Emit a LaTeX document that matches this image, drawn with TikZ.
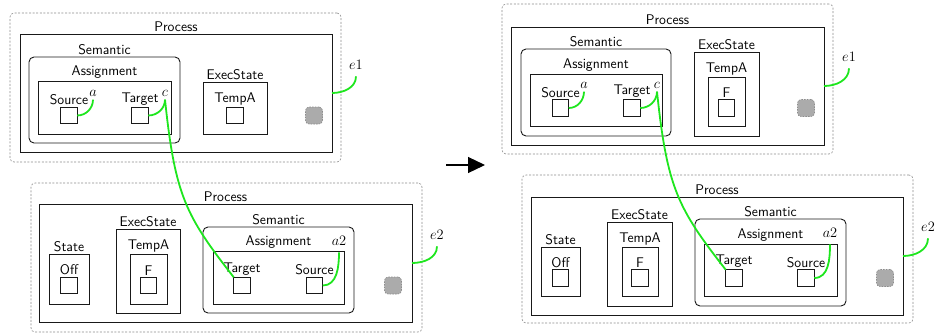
\documentclass[tikz,border=0pt]{standalone}
\usetikzlibrary{arrows.meta}
\definecolor{linkgreen}{RGB}{30,230,30}
\begin{document}
\begin{tikzpicture}[x=1pt,y=-1pt,
  every node/.style={font=\fontsize{14}{17}\selectfont},
  sz/.style 2 args={minimum width=#1pt, minimum height=#2pt},
  box/.style={draw=black!90, line width=0.9pt, inner sep=0pt, outer sep=0pt},
  rbox/.style={box, rounded corners=5pt},
  sq/.style={box, minimum size=16.5pt},
  grp/.style={draw=black!45, line width=0.6pt, dash pattern=on 2pt off 1.6pt, rounded corners=4pt, inner sep=0pt, outer sep=0pt},
  port/.style={fill=black!33, draw=black!45, line width=0.6pt, dash pattern=on 1.5pt off 1.2pt, rounded corners=3.5pt, minimum size=17pt, inner sep=0pt},
  lab/.style={anchor=south, inner sep=2pt, font=\fontsize{14}{17}\selectfont\sffamily},
  mlab/.style={inner sep=3.3pt},
  elab/.style={inner xsep=3pt, inner ysep=6.5pt},
  link/.style={draw=linkgreen, line width=1.8pt}
]
\useasboundingbox (0,0) rectangle (935,333);

% ---------- top left ----------
\node[grp, sz={331}{149}] (TLg) at (175.5,87.5) {};
\node[box, sz={312}{118}] (TLp) at (176,93) {};
\node[lab] (TLpL) at (TLp.north) {Process};
\node[rbox, sz={151}{86}] (TLs) at (104.5,100) {};
\node[lab] (TLsL) at (TLs.north) {Semantic};
\node[box, sz={133}{53}] (TLa) at (104.5,107.5) {};
\node[lab] (TLaL) at (TLa.north) {Assignment};
\node[sq] (TLsrc) at (69,115.5) {};
\node[lab] (TLsrcL) at (TLsrc.north) {Source};
\node[sq] (TLtgt) at (140,115.5) {};
\node[lab] (TLtgtL) at (TLtgt.north) {Target};
\node[box, sz={64}{52}] (TLe) at (235,108) {};
\node[lab] (TLeL) at (TLe.north) {ExecState};
\node[sq] (TLt) at (235,115.5) {};
\node[lab] (TLtL) at (TLt.north) {TempA};
\node[port] (TLport) at (314,115.5) {};
\node[mlab] (TLma) at (93,93) {$a$};
\node[mlab] (TLmc) at (165,93) {$c$};
\node[elab] (TLme) at (356,65) {$e1$};

% ---------- bottom left ----------
\node[grp, sz={391}{149}] (BLg) at (226.5,257.5) {};
\node[box, sz={373}{118}] (BLp) at (225.5,263) {};
\node[lab] (BLpL) at (BLp.north) {Process};
\node[box, sz={40}{50}] (BLst) at (69,279) {};
\node[lab] (BLstL) at (BLst.north) {State};
\node[sq] (BLoff) at (69,285.5) {};
\node[lab] (BLoffL) at (BLoff.north) {Off};
\node[box, sz={64}{84}] (BLe) at (148,271) {};
\node[lab] (BLeL) at (BLe.north) {ExecState};
\node[box, sz={37}{50}] (BLt) at (148.5,279) {};
\node[lab] (BLtL) at (BLt.north) {TempA};
\node[sq] (BLf) at (148.5,285.5) {};
\node[lab] (BLfL) at (BLf.north) {F};
\node[rbox, sz={151}{86}] (BLs) at (278.5,270) {};
\node[lab] (BLsL) at (BLs.north) {Semantic};
\node[box, sz={131}{53}] (BLa) at (278.5,277.5) {};
\node[lab] (BLaL) at (BLa.north) {Assignment};
\node[sq] (BLtgt) at (242,285.5) {};
\node[lab] (BLtgtL) at (BLtgt.north) {Target};
\node[sq] (BLsrc) at (314.5,285.5) {};
\node[lab] (BLsrcL) at (BLsrc.north) {Source};
\node[port] (BLport) at (393,285.5) {};
\node[elab] (BLma) at (339,241) {$a2$};
\node[elab] (BLme) at (437,235) {$e2$};

% ---------- top right ----------
\node[grp, sz={331}{150}] (TRg) at (667.5,79) {};
\node[box, sz={313}{118}] (TRp) at (667.5,86) {};
\node[lab] (TRpL) at (TRp.north) {Process};
\node[rbox, sz={150}{87}] (TRs) at (596,92.5) {};
\node[lab] (TRsL) at (TRs.north) {Semantic};
\node[box, sz={132}{52}] (TRa) at (596,100) {};
\node[lab] (TRaL) at (TRa.north) {Assignment};
\node[sq] (TRsrc) at (560.5,108) {};
\node[lab] (TRsrcL) at (TRsrc.north) {Source};
\node[sq] (TRtgt) at (632,108) {};
\node[lab] (TRtgtL) at (TRtgt.north) {Target};
\node[box, sz={65}{84}] (TRe) at (726.5,94) {};
\node[lab] (TReL) at (TRe.north) {ExecState};
\node[box, sz={37}{49}] (TRt) at (726.5,101.5) {};
\node[lab] (TRtL) at (TRt.north) {TempA};
\node[sq] (TRf) at (726.5,108) {};
\node[lab] (TRfL) at (TRf.north) {F};
\node[port] (TRport) at (806,108) {};
\node[mlab] (TRma) at (584,85) {$a$};
\node[mlab] (TRmc) at (657,85) {$c$};
\node[elab] (TRme) at (849,57) {$e1$};

% ---------- bottom right ----------
\node[grp, sz={391}{148}] (BRg) at (717.5,249) {};
\node[box, sz={372}{118}] (BRp) at (717,256) {};
\node[lab] (BRpL) at (BRp.north) {Process};
\node[box, sz={39}{49}] (BRst) at (560.5,271.5) {};
\node[lab] (BRstL) at (BRst.north) {State};
\node[sq] (BRoff) at (560.5,278) {};
\node[lab] (BRoffL) at (BRoff.north) {Off};
\node[box, sz={65}{84}] (BRe) at (639.5,264) {};
\node[lab] (BReL) at (BRe.north) {ExecState};
\node[box, sz={36}{49}] (BRt) at (640,271.5) {};
\node[lab] (BRtL) at (BRt.north) {TempA};
\node[sq] (BRf) at (640,278) {};
\node[lab] (BRfL) at (BRf.north) {F};
\node[rbox, sz={151}{87}] (BRs) at (770.5,262.5) {};
\node[lab] (BRsL) at (BRs.north) {Semantic};
\node[box, sz={133}{52}] (BRa) at (770.5,270) {};
\node[lab] (BRaL) at (BRa.north) {Assignment};
\node[sq] (BRtgt) at (734,278) {};
\node[lab] (BRtgtL) at (BRtgt.north) {Target};
\node[sq] (BRsrc) at (806,278) {};
\node[lab] (BRsrcL) at (BRsrc.north) {Source};
\node[port] (BRport) at (885,278) {};
\node[elab] (BRma) at (830,233) {$a2$};
\node[elab] (BRme) at (928,227) {$e2$};

% ---------- green links ----------
\draw[link] (TLsrc.east) to[out=0,in=-90] (TLma.south);
\draw[link] (TLtgt.east) to[out=0,in=-90] (TLmc.south);
\draw[link] (TLp.east) to[out=0,in=-90] (TLme.south);
\draw[link] (TLmc.south) .. controls +(-84:97pt) and +(128:78pt) .. (BLtgt.north west);
\draw[link] (BLma.south) to[out=-90,in=0] (BLsrc.east);
\draw[link] (BLp.east) to[out=0,in=-90] (BLme.south);

\draw[link] (TRsrc.east) to[out=0,in=-90] (TRma.south);
\draw[link] (TRtgt.east) to[out=0,in=-90] (TRmc.south);
\draw[link] (TRp.east) to[out=0,in=-90] (TRme.south);
\draw[link] (TRmc.south) .. controls +(-84:97pt) and +(128:78pt) .. (BRtgt.north west);
\draw[link] (BRma.south) to[out=-90,in=0] (BRsrc.east);
\draw[link] (BRp.east) to[out=0,in=-90] (BRme.south);

% ---------- transition arrow ----------
\coordinate (arrS) at (446,165);
\coordinate (arrE) at (485,165);
\draw[line width=1.2pt, -{Triangle[length=17pt,width=16pt]}] (arrS) -- (arrE);
\end{tikzpicture}
\end{document}
